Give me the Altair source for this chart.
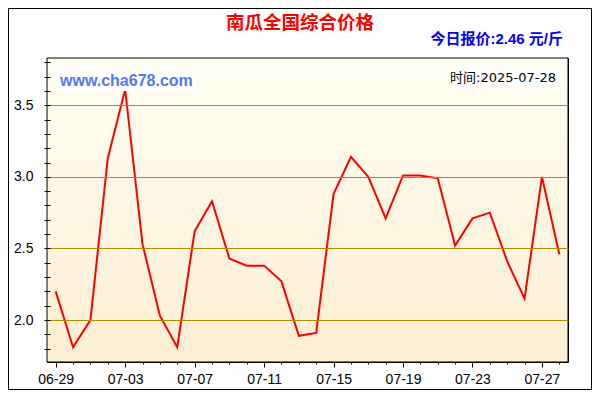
import json
import altair as alt
import pandas as pd

# ---- data ----
dates = ["06-29", "06-30", "07-01", "07-02", "07-03", "07-04", "07-05", "07-06",
         "07-07", "07-08", "07-09", "07-10", "07-11", "07-12", "07-13", "07-14",
         "07-15", "07-16", "07-17", "07-18", "07-19", "07-20", "07-21", "07-22",
         "07-23", "07-24", "07-25", "07-26", "07-27", "07-28"]
prices = [2.20, 1.81, 2.00, 3.13, 3.61, 2.53, 2.03, 1.81, 2.62, 2.83,
          2.43, 2.38, 2.38, 2.27, 1.89, 1.91, 2.88, 3.14, 3.00, 2.71,
          3.01, 3.01, 2.99, 2.52, 2.71, 2.75, 2.41, 2.15, 3.00, 2.46]
y_tick_values = [1.8, 1.9, 2.0, 2.1, 2.2, 2.3, 2.4, 2.5, 2.6, 2.7, 2.8,
                 2.9, 3.0, 3.1, 3.2, 3.3, 3.4, 3.5, 3.6, 3.7, 3.8]
y_domain = [1.707, 3.83]
major_dates = dates[::4]

title_text = "南瓜全国综合价格"
price_text = "今日报价:2.46 元/斤"
site_text = "www.cha678.com"
time_text = "时间:2025-07-28"

W, H = 521, 304
PAD = {"left": 39, "top": 50, "right": 24, "bottom": 28}

df = pd.DataFrame({"date": dates, "price": prices})
one = pd.DataFrame({"k": [0]})

x_scale = alt.Scale(type="point", domain=dates, padding=0.5)
y_scale = alt.Scale(domain=y_domain, nice=False, zero=False)

is_major = f"indexof({json.dumps(major_dates)}, datum.value) >= 0"
is_ylab = "abs(datum.value * 2 - round(datum.value * 2)) < 0.001"

axis_font = "Liberation Sans, Arial"

x_bottom = alt.Axis(
    orient="bottom", values=dates, title=None, domain=False, grid=False,
    labelExpr=f"{is_major} ? datum.value : ''", labelAngle=0,
    labelFont=axis_font, labelFontSize=14, labelColor="#000000",
    labelPadding=5, labelOverlap=False,
    tickColor="#000000", offset=-2,
    tickSize={"condition": {"test": is_major, "value": 7}, "value": 4},
)
y_left = alt.Axis(
    orient="left", values=y_tick_values, title=None, domain=False,
    labelExpr=f"{is_ylab} ? format(datum.value, '.1f') : ''",
    labelFont=axis_font, labelFontSize=14, labelColor="#000000",
    labelPadding=11, labelOverlap=False,
    tickColor="#000000", tickSize=6, offset=-3,
    grid=True, gridColor="#b88a00", gridWidth=1,
    gridOpacity={"condition": {"test": is_ylab, "value": 1}, "value": 0},
    zindex=1,
)
x_top = alt.Axis(orient="top", values=dates, title=None, domain=False,
                 labels=False, grid=False, tickColor="#000000", tickSize=5, offset=-5)
y_right = alt.Axis(orient="right", values=y_tick_values, title=None, domain=False,
                   labels=False, grid=False, tickColor="#000000", tickSize=5, offset=-5)

gradient = alt.LinearGradient(
    gradient="linear", x1=0, y1=0, x2=0, y2=1,
    stops=[alt.GradientStop(offset=0, color="#fffff4"),
           alt.GradientStop(offset=1, color="#fdeed2")],
)
bg = alt.Chart(one).mark_rect(fill=gradient).encode(
    x=alt.value(0), x2=alt.value(W), y=alt.value(0), y2=alt.value(H))

line = alt.Chart(df).mark_line(color="#ff0000", strokeWidth=2).encode(
    x=alt.X("date:O", scale=x_scale, axis=x_bottom, sort=dates),
    y=alt.Y("price:Q", scale=y_scale, axis=y_left),
)
ghost = alt.Chart(df).mark_line(opacity=0).encode(
    x=alt.X("date:O", scale=x_scale, axis=x_top, sort=dates),
    y=alt.Y("price:Q", scale=y_scale, axis=y_right),
)

def box(x1, x2, y1, y2, **kw):
    return alt.Chart(one).mark_rect(**kw).encode(
        x=alt.value(x1), x2=alt.value(x2), y=alt.value(y1), y2=alt.value(y2))

def label(txt, x, y, **kw):
    return alt.Chart(one).mark_text(**kw).encode(
        x=alt.value(x), y=alt.value(y), text=alt.value(txt))

frame = box(0, W, 0, H, filled=False, stroke="#000000", strokeWidth=1)
site_box = box(10, 150, 13, 33, color="#ffffff")
time_box = box(404, 511, 12, 27, color="#ffffff")
outer = box(-38.5, W + PAD["right"] - 0.5, -49.5, H + PAD["bottom"] - 0.5,
            filled=False, stroke="#000000", strokeWidth=1)

title = label(title_text, 253, -35, font="Noto Sans CJK SC", fontSize=18.5,
              fontWeight="bold", color="#ff0000", align="center", baseline="middle")
price = label(price_text, 516, -19, font="Liberation Sans, Noto Sans CJK SC", fontSize=15,
              fontWeight="bold", color="#0000ee", align="right", baseline="middle")
site = label(site_text, 13, 23, font="Liberation Sans, Arial", fontSize=16,
             fontWeight="bold", color="#5577ee", align="left", baseline="middle")
timel = label(time_text, 509, 20, font="DejaVu Sans, Noto Sans CJK SC", fontSize=13,
              color="#000000", align="right", baseline="middle")

chart = alt.layer(
    bg, line, ghost, frame, site_box, time_box, site, timel, title, price, outer
).resolve_axis(x="independent", y="independent").properties(
    width=W, height=H, autosize=alt.AutoSizeParams(type="none"), padding=PAD,
    background="#ffffff",
).configure_view(stroke="#000000", strokeWidth=1)

chart.save("out.html", embed_options={"renderer": "svg", "actions": False})
